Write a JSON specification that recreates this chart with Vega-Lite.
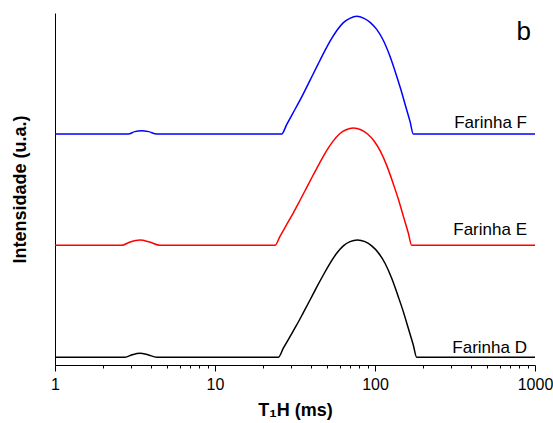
{
  "$schema": "https://vega.github.io/schema/vega-lite/v6.json",
  "autosize": {"type": "none"},
  "padding": {"left": 55, "top": 13, "right": 18, "bottom": 58},
  "width": 480,
  "height": 352,
  "background": "white",
  "config": {
    "view": {"stroke": null},
    "font": "Liberation Sans",
    "axis": {"grid": false, "domainColor": "#000000", "tickColor": "#000000", "labelColor": "#000000", "titleColor": "#000000"}
  },
  "datasets": {
    "curvas": [
      {"amostra": "Farinha D", "t": 1, "intensidade": 0.066},
      {"amostra": "Farinha D", "t": 2.74, "intensidade": 0.066},
      {"amostra": "Farinha D", "t": 3.03, "intensidade": 0.087},
      {"amostra": "Farinha D", "t": 3.40, "intensidade": 0.100},
      {"amostra": "Farinha D", "t": 3.81, "intensidade": 0.087},
      {"amostra": "Farinha D", "t": 4.32, "intensidade": 0.066},
      {"amostra": "Farinha D", "t": 24.86, "intensidade": 0.066},
      {"amostra": "Farinha D", "t": 26.73, "intensidade": 0.143},
      {"amostra": "Farinha D", "t": 29.43, "intensidade": 0.242},
      {"amostra": "Farinha D", "t": 32.40, "intensidade": 0.341},
      {"amostra": "Farinha D", "t": 35.64, "intensidade": 0.446},
      {"amostra": "Farinha D", "t": 39.25, "intensidade": 0.554},
      {"amostra": "Farinha D", "t": 43.21, "intensidade": 0.663},
      {"amostra": "Farinha D", "t": 47.53, "intensidade": 0.767},
      {"amostra": "Farinha D", "t": 52.33, "intensidade": 0.867},
      {"amostra": "Farinha D", "t": 57.62, "intensidade": 0.952},
      {"amostra": "Farinha D", "t": 63.38, "intensidade": 1.015},
      {"amostra": "Farinha D", "t": 69.80, "intensidade": 1.051},
      {"amostra": "Farinha D", "t": 77.52, "intensidade": 1.066},
      {"amostra": "Farinha D", "t": 86.60, "intensidade": 1.051},
      {"amostra": "Farinha D", "t": 95.36, "intensidade": 1.015},
      {"amostra": "Farinha D", "t": 104.86, "intensidade": 0.957},
      {"amostra": "Farinha D", "t": 115.48, "intensidade": 0.867},
      {"amostra": "Farinha D", "t": 127.16, "intensidade": 0.739},
      {"amostra": "Farinha D", "t": 139.80, "intensidade": 0.582},
      {"amostra": "Farinha D", "t": 150.27, "intensidade": 0.455},
      {"amostra": "Farinha D", "t": 161.5, "intensidade": 0.313},
      {"amostra": "Farinha D", "t": 173.5, "intensidade": 0.171},
      {"amostra": "Farinha D", "t": 182.2, "intensidade": 0.066},
      {"amostra": "Farinha D", "t": 1000, "intensidade": 0.066},

      {"amostra": "Farinha E", "t": 1, "intensidade": 1.020},
      {"amostra": "Farinha E", "t": 2.61, "intensidade": 1.020},
      {"amostra": "Farinha E", "t": 2.95, "intensidade": 1.048},
      {"amostra": "Farinha E", "t": 3.40, "intensidade": 1.065},
      {"amostra": "Farinha E", "t": 3.90, "intensidade": 1.048},
      {"amostra": "Farinha E", "t": 4.53, "intensidade": 1.020},
      {"amostra": "Farinha E", "t": 23.71, "intensidade": 1.020},
      {"amostra": "Farinha E", "t": 25.48, "intensidade": 1.097},
      {"amostra": "Farinha E", "t": 28.03, "intensidade": 1.196},
      {"amostra": "Farinha E", "t": 30.82, "intensidade": 1.295},
      {"amostra": "Farinha E", "t": 33.88, "intensidade": 1.400},
      {"amostra": "Farinha E", "t": 37.26, "intensidade": 1.508},
      {"amostra": "Farinha E", "t": 41.02, "intensidade": 1.617},
      {"amostra": "Farinha E", "t": 45.06, "intensidade": 1.721},
      {"amostra": "Farinha E", "t": 49.55, "intensidade": 1.821},
      {"amostra": "Farinha E", "t": 54.58, "intensidade": 1.906},
      {"amostra": "Farinha E", "t": 59.91, "intensidade": 1.969},
      {"amostra": "Farinha E", "t": 65.98, "intensidade": 2.005},
      {"amostra": "Farinha E", "t": 73.17, "intensidade": 2.020},
      {"amostra": "Farinha E", "t": 81.66, "intensidade": 2.005},
      {"amostra": "Farinha E", "t": 89.80, "intensidade": 1.969},
      {"amostra": "Farinha E", "t": 98.42, "intensidade": 1.911},
      {"amostra": "Farinha E", "t": 108.2, "intensidade": 1.821},
      {"amostra": "Farinha E", "t": 119.0, "intensidade": 1.693},
      {"amostra": "Farinha E", "t": 130.7, "intensidade": 1.536},
      {"amostra": "Farinha E", "t": 140.3, "intensidade": 1.409},
      {"amostra": "Farinha E", "t": 150.5, "intensidade": 1.267},
      {"amostra": "Farinha E", "t": 161.5, "intensidade": 1.125},
      {"amostra": "Farinha E", "t": 169.6, "intensidade": 1.020},
      {"amostra": "Farinha E", "t": 1000, "intensidade": 1.020},

      {"amostra": "Farinha F", "t": 1, "intensidade": 1.969},
      {"amostra": "Farinha F", "t": 2.87, "intensidade": 1.969},
      {"amostra": "Farinha F", "t": 3.15, "intensidade": 1.989},
      {"amostra": "Farinha F", "t": 3.48, "intensidade": 1.997},
      {"amostra": "Farinha F", "t": 3.85, "intensidade": 1.989},
      {"amostra": "Farinha F", "t": 4.32, "intensidade": 1.969},
      {"amostra": "Farinha F", "t": 26.12, "intensidade": 1.969},
      {"amostra": "Farinha F", "t": 27.99, "intensidade": 2.046},
      {"amostra": "Farinha F", "t": 30.64, "intensidade": 2.145},
      {"amostra": "Farinha F", "t": 33.59, "intensidade": 2.244},
      {"amostra": "Farinha F", "t": 36.78, "intensidade": 2.349},
      {"amostra": "Farinha F", "t": 40.27, "intensidade": 2.457},
      {"amostra": "Farinha F", "t": 44.16, "intensidade": 2.566},
      {"amostra": "Farinha F", "t": 48.29, "intensidade": 2.670},
      {"amostra": "Farinha F", "t": 52.94, "intensidade": 2.770},
      {"amostra": "Farinha F", "t": 58.04, "intensidade": 2.855},
      {"amostra": "Farinha F", "t": 63.47, "intensidade": 2.918},
      {"amostra": "Farinha F", "t": 69.59, "intensidade": 2.954},
      {"amostra": "Farinha F", "t": 76.85, "intensidade": 2.972},
      {"amostra": "Farinha F", "t": 85.36, "intensidade": 2.954},
      {"amostra": "Farinha F", "t": 93.59, "intensidade": 2.918},
      {"amostra": "Farinha F", "t": 102.5, "intensidade": 2.860},
      {"amostra": "Farinha F", "t": 112.4, "intensidade": 2.770},
      {"amostra": "Farinha F", "t": 123.2, "intensidade": 2.642},
      {"amostra": "Farinha F", "t": 134.9, "intensidade": 2.485},
      {"amostra": "Farinha F", "t": 144.3, "intensidade": 2.358},
      {"amostra": "Farinha F", "t": 154.6, "intensidade": 2.216},
      {"amostra": "Farinha F", "t": 165.7, "intensidade": 2.074},
      {"amostra": "Farinha F", "t": 173.5, "intensidade": 1.969},
      {"amostra": "Farinha F", "t": 1000, "intensidade": 1.969}
    ],
    "rotulos": [
      {"texto": "Farinha F", "t": 891, "intensidade": 2.020},
      {"texto": "Farinha E", "t": 891, "intensidade": 1.108},
      {"texto": "Farinha D", "t": 891, "intensidade": 0.102}
    ],
    "painel": [
      {"texto": "b", "t": 850, "intensidade": 2.77}
    ]
  },
  "layer": [
    {
      "data": {"name": "curvas"},
      "mark": {"type": "line", "interpolate": "monotone", "strokeWidth": 1.5},
      "encoding": {
        "x": {
          "field": "t", "type": "quantitative",
          "scale": {"type": "log", "domain": [1, 1000], "nice": false},
          "axis": {
            "title": "T₁H (ms)",
            "titleFont": "Liberation Sans",
            "titleFontSize": 18,
            "titleFontWeight": "bold",
            "titlePadding": 9,
            "values": [1,2,3,4,5,6,7,8,9,10,20,30,40,50,60,70,80,90,100,200,300,400,500,600,700,800,900,1000],
            "labelExpr": "indexof([1,10,100,1000], datum.value) >= 0 ? format(datum.value, 'd') : ''",
            "labelFont": "Liberation Sans",
            "labelFontSize": 16,
            "labelFlush": false,
            "labelOverlap": false,
            "labelPadding": 5,
            "tickSize": {"condition": {"test": "indexof([1,10,100,1000], datum.value) >= 0", "value": 6}, "value": 3},
            "tickWidth": 1,
            "domainWidth": 1
          }
        },
        "y": {
          "field": "intensidade", "type": "quantitative",
          "scale": {"domain": [0, 3], "nice": false, "zero": false},
          "axis": {
            "title": "Intensidade (u.a.)",
            "titleFont": "Liberation Sans",
            "titleFontSize": 18,
            "titleFontWeight": "bold",
            "titlePadding": 26,
            "ticks": false,
            "labels": false,
            "domainWidth": 1
          }
        },
        "color": {
          "field": "amostra", "type": "nominal",
          "scale": {"domain": ["Farinha D", "Farinha E", "Farinha F"], "range": ["#000000", "#ff0000", "#0000ff"]},
          "legend": null
        }
      }
    },
    {
      "data": {"name": "rotulos"},
      "mark": {"type": "text", "align": "right", "baseline": "alphabetic", "font": "Liberation Sans", "fontSize": 17, "color": "#000000"},
      "encoding": {
        "x": {"field": "t", "type": "quantitative"},
        "y": {"field": "intensidade", "type": "quantitative"},
        "text": {"field": "texto"}
      }
    },
    {
      "data": {"name": "painel"},
      "mark": {"type": "text", "align": "center", "baseline": "alphabetic", "font": "Liberation Sans", "fontSize": 26, "color": "#000000"},
      "encoding": {
        "x": {"field": "t", "type": "quantitative"},
        "y": {"field": "intensidade", "type": "quantitative"},
        "text": {"field": "texto"}
      }
    }
  ]
}
